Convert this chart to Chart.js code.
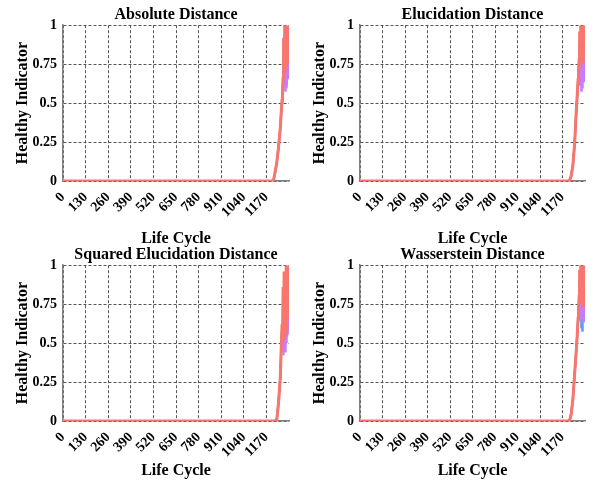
<!DOCTYPE html>
<html>
<head>
<meta charset="utf-8">
<script src="https://cdn.jsdelivr.net/npm/chart.js@4"></script>
<style>
  body { margin: 0; background: #fff; }
  #wrap { position: relative; width: 605px; height: 481px; overflow: hidden; background: #fff; }
  canvas { position: absolute; }
</style>
</head>
<body>
<div id="wrap">
  <canvas id="absChart" width="300" height="248" style="left:0px;top:0px"></canvas>
  <canvas id="eluChart" width="300" height="248" style="left:297px;top:0px"></canvas>
  <canvas id="sqChart" width="300" height="241" style="left:0px;top:240px"></canvas>
  <canvas id="wassChart" width="300" height="241" style="left:297px;top:240px"></canvas>
</div>
<script>
// Life cycle samples (flat at 0 until the end of life, then the rise)
const lifeCycle = [0, 1180, 1190, 1200, 1210, 1220, 1230, 1240, 1250, 1255, 1260, 1263, 1266, 1269, 1272, 1275, 1278, 1281, 1284, 1287, 1290, 1293, 1296, 1299];
const xTicks = [0, 130, 260, 390, 520, 650, 780, 910, 1040, 1170];

// Absolute Distance
const absRed    = [0, 0, 0, 0, 0, 0.06, 0.12, 0.22, 0.34, 0.44, 0.52, 0.58, 0.66, 0.92, 0.70, 1.00, 0.74, 0.97, 0.72, 1.00, 0.80, 0.95, 0.76, 1.00];
const absPurple = [0, 0, 0, 0, 0, 0.05, 0.11, 0.21, 0.33, 0.42, 0.50, 0.56, 0.62, 0.85, 0.64, 0.92, 0.58, 0.88, 0.60, 0.90, 0.68, 0.86, 0.66, 0.80];
const absBlue   = [0, 0, 0, 0, 0, 0.05, 0.12, 0.22, 0.34, 0.43, 0.51, 0.57, 0.64, 0.80, 0.68, 0.88, 0.64, 0.82, 0.62, 0.86, 0.70, 0.84, 0.72, 0.78];
const absGreen  = [0, 0, 0, 0, 0, 0.06, 0.12, 0.23, 0.35, 0.44, 0.52, 0.59, 0.66, 0.82, 0.72, 0.90, 0.70, 0.86, 0.74, 0.92, 0.78, 0.88, 0.80, 0.84];

// Elucidation Distance
const eluRed    = [0, 0, 0, 0, 0, 0.03, 0.10, 0.24, 0.46, 0.55, 0.65, 0.72, 0.78, 0.96, 0.74, 1.00, 0.80, 0.98, 0.76, 1.00, 0.82, 0.95, 0.78, 1.00];
const eluPurple = [0, 0, 0, 0, 0, 0.03, 0.09, 0.23, 0.44, 0.53, 0.62, 0.68, 0.70, 0.90, 0.62, 0.94, 0.58, 0.92, 0.60, 0.88, 0.66, 0.90, 0.64, 0.86];
const eluBlue   = [0, 0, 0, 0, 0, 0.03, 0.10, 0.24, 0.45, 0.54, 0.64, 0.70, 0.72, 0.86, 0.68, 0.90, 0.66, 0.86, 0.64, 0.92, 0.70, 0.86, 0.72, 0.80];
const eluGreen  = [0, 0, 0, 0, 0, 0.04, 0.11, 0.25, 0.46, 0.55, 0.65, 0.72, 0.76, 0.88, 0.74, 0.93, 0.72, 0.90, 0.76, 0.94, 0.78, 0.90, 0.80, 0.88];

// Squared Elucidation Distance
const sqRed    = [0, 0, 0, 0, 0, 0, 0.01, 0.12, 0.28, 0.46, 0.62, 0.50, 0.86, 0.55, 0.96, 0.52, 0.90, 0.60, 1.00, 0.56, 0.94, 0.66, 1.00, 0.72];
const sqPurple = [0, 0, 0, 0, 0, 0, 0.01, 0.11, 0.27, 0.44, 0.55, 0.45, 0.78, 0.42, 0.85, 0.48, 0.80, 0.44, 0.88, 0.50, 0.82, 0.55, 0.90, 0.60];
const sqBlue   = [0, 0, 0, 0, 0, 0, 0.01, 0.12, 0.28, 0.45, 0.58, 0.48, 0.74, 0.50, 0.80, 0.46, 0.76, 0.52, 0.84, 0.54, 0.78, 0.58, 0.86, 0.64];
const sqGreen  = [0, 0, 0, 0, 0, 0, 0.02, 0.13, 0.29, 0.46, 0.60, 0.52, 0.80, 0.56, 0.88, 0.58, 0.84, 0.62, 0.92, 0.60, 0.86, 0.64, 0.94, 0.70];

// Wasserstein Distance
const wassRed    = [0, 0, 0, 0, 0, 0.04, 0.14, 0.30, 0.46, 0.55, 0.66, 0.72, 0.80, 0.97, 0.76, 1.00, 0.78, 0.96, 0.80, 1.00, 0.74, 0.98, 0.82, 1.00];
const wassPurple = [0, 0, 0, 0, 0, 0.04, 0.13, 0.29, 0.45, 0.54, 0.64, 0.70, 0.74, 0.92, 0.68, 0.95, 0.66, 0.88, 0.70, 0.93, 0.64, 0.90, 0.70, 0.86];
const wassBlue   = [0, 0, 0, 0, 0, 0.04, 0.14, 0.30, 0.46, 0.55, 0.65, 0.71, 0.76, 0.86, 0.66, 0.90, 0.60, 0.84, 0.58, 0.88, 0.64, 0.82, 0.68, 0.78];
const wassGreen  = [0, 0, 0, 0, 0, 0.05, 0.15, 0.31, 0.47, 0.56, 0.66, 0.72, 0.78, 0.90, 0.74, 0.94, 0.72, 0.92, 0.76, 0.95, 0.78, 0.92, 0.80, 0.90];

const seriesColors = ['#F8766D', '#C77CFF', '#619CFF', '#00BA38'];
const serif = "'Liberation Serif', 'Times New Roman', serif";

function toPoints(values) {
    return values.map((v, i) => ({ x: lifeCycle[i], y: v }));
}

function makePanel(id, title, series, padRight, xTitleBottom, xAxisHeight) {
    const ctx = document.getElementById(id).getContext('2d');
    return new Chart(ctx, {
        type: 'line',
        data: {
            datasets: series.map((values, i) => ({
                data: toPoints(values),
                borderColor: seriesColors[i],
                borderWidth: i === 0 ? 3 : 2,
                pointRadius: 0,
                tension: 0,
                fill: false
            }))
        },
        options: {
            responsive: false,
            animation: false,
            layout: { padding: { right: padRight } },
            scales: {
                x: {
                    type: 'linear',
                    min: 0,
                    max: 1300,
                    afterBuildTicks: s => { s.ticks = xTicks.map(v => ({ value: v })); },
                    afterFit: s => { s.height = xAxisHeight; },
                    ticks: {
                        autoSkip: false,
                        minRotation: 45,
                        maxRotation: 45,
                        padding: 8,
                        color: '#000',
                        font: { family: serif, size: 14, weight: 'bold' },
                        callback: v => String(v)
                    },
                    grid: { color: '#555', lineWidth: 1, drawTicks: false },
                    border: { display: true, color: '#808080', width: 1.5, dash: [3, 2] },
                    title: {
                        display: true,
                        text: 'Life Cycle',
                        color: '#000',
                        font: { family: serif, size: 16, weight: 'bold' },
                        padding: { top: 0, bottom: xTitleBottom }
                    }
                },
                y: {
                    min: 0,
                    max: 1,
                    afterFit: s => { s.width = 63; },
                    ticks: {
                        stepSize: 0.25,
                        padding: 6,
                        color: '#000',
                        font: { family: serif, size: 14, weight: 'bold' },
                        callback: v => String(+v.toFixed(2))
                    },
                    grid: { color: '#555', lineWidth: 1, drawTicks: false },
                    border: { display: true, color: '#808080', width: 1.5, dash: [3, 2] },
                    title: {
                        display: true,
                        text: 'Healthy Indicator',
                        color: '#000',
                        font: { family: serif, size: 16, weight: 'bold' },
                        padding: { top: 13, bottom: 0 }
                    }
                }
            },
            plugins: {
                legend: { display: false },
                tooltip: { enabled: false },
                title: {
                    display: true,
                    text: title,
                    fullSize: false,
                    color: '#000',
                    font: { family: serif, size: 16, weight: 'bold' },
                    padding: { top: 5, bottom: 1 }
                }
            }
        }
    });
}

makePanel('absChart', 'Absolute Distance', [absRed, absPurple, absBlue, absGreen], 11, 0, 67);
makePanel('eluChart', 'Elucidation Distance', [eluRed, eluPurple, eluBlue, eluGreen], 12, 0, 67);
makePanel('sqChart', 'Squared Elucidation Distance', [sqRed, sqPurple, sqBlue, sqGreen], 11, 1, 60);
makePanel('wassChart', 'Wasserstein Distance', [wassRed, wassPurple, wassBlue, wassGreen], 12, 1, 60);
</script>
</body>
</html>
